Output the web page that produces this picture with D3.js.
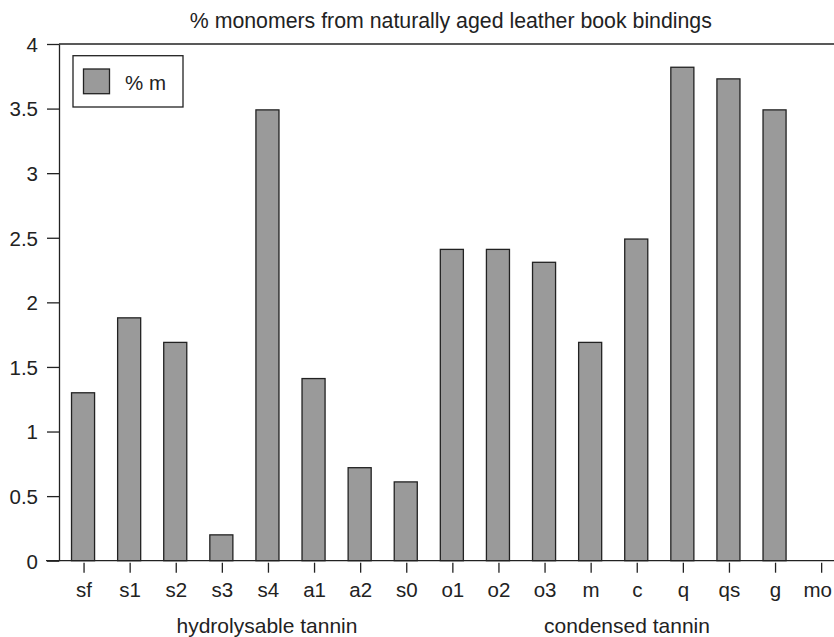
<!DOCTYPE html>
<html>
<head>
<meta charset="utf-8">
<script src="https://cdn.jsdelivr.net/npm/d3@7"></script>
<style>
  html, body { margin: 0; padding: 0; background: #fff; }
  svg { display: block; }
  text { font-family: "Liberation Sans", Arial, Helvetica, sans-serif; fill: #222; }
</style>
</head>
<body>
<svg id="chart" width="834" height="637"></svg>
<script>
const title = "% monomers from naturally aged leather book bindings";
const categories = ["sf","s1","s2","s3","s4","a1","a2","s0","o1","o2","o3","m","c","q","qs","g","mo"];
const values = [1.30, 1.88, 1.69, 0.20, 3.49, 1.41, 0.72, 0.61, 2.41, 2.41, 2.31, 1.69, 2.49, 3.82, 3.73, 3.49, 0];
const yTicks = [0, 0.5, 1, 1.5, 2, 2.5, 3, 3.5, 4];
const seriesName = "% m";
const groups = [
  { label: "hydrolysable tannin", from: "sf", to: "s0" },
  { label: "condensed tannin", from: "o1", to: "mo" }
];

const svg = d3.select("#chart");
const mLeft = 59, mTop = 44, mBottom = 560.7, mRight = 844.7;

const x = d3.scaleBand().domain(categories).range([61, mRight]).paddingInner(0.5).paddingOuter(0.25);
const y = d3.scaleLinear().domain([0, 4]).range([mBottom, mTop]);

// Top line
svg.append("line").attr("x1", mLeft).attr("x2", 834).attr("y1", y(4)).attr("y2", y(4))
  .attr("stroke", "#222").attr("stroke-width", 1.3);

// Bars
svg.append("g").selectAll("rect").data(categories.map((c, i) => ({ c, v: values[i] })).filter(d => d.v > 0))
  .join("rect")
  .attr("x", d => x(d.c) - 1)
  .attr("width", x.bandwidth())
  .attr("y", d => y(d.v))
  .attr("height", d => y(0) - y(d.v))
  .attr("fill", "#9a9a9a")
  .attr("stroke", "#222")
  .attr("stroke-width", 1.3);

// Baseline
svg.append("line").attr("x1", 46).attr("x2", 834).attr("y1", y(0)).attr("y2", y(0))
  .attr("stroke", "#222").attr("stroke-width", 1.3);

// Y axis
const yAxis = svg.append("g").attr("transform", `translate(${mLeft},0)`)
  .call(d3.axisLeft(y).tickValues(yTicks).tickFormat(d3.format("")).tickSize(12).tickSizeOuter(0).tickPadding(9));
yAxis.select(".domain").attr("stroke", "#222").attr("stroke-width", 1.3);
yAxis.selectAll(".tick line").attr("stroke", "#222").attr("stroke-width", 1.3);
yAxis.selectAll(".tick text").attr("font-size", 20.5).attr("fill", "#222").attr("dy", "0.36em")
  .style("font-family", "'Liberation Sans', Arial, sans-serif");

// X axis ticks
const xAxis = svg.append("g").attr("transform", `translate(0,${y(0) + 2})`)
  .call(d3.axisBottom(x).tickSize(10).tickSizeOuter(0).tickPadding(10));
xAxis.select(".domain").remove();
xAxis.selectAll(".tick line").attr("stroke", "#222").attr("stroke-width", 1.3);
xAxis.selectAll(".tick text").attr("font-size", 20.5).attr("fill", "#222").attr("dy", "0.71em")
  .style("font-family", "'Liberation Sans', Arial, sans-serif");
// keep the last label inside the picture, as in the reference
xAxis.selectAll(".tick").filter(d => d === categories[categories.length - 1]).select("text")
  .attr("text-anchor", "end").attr("x", function () {
    const t = d3.select(this.parentNode).attr("transform");
    const tx = +t.match(/translate\(([^,]+)/)[1];
    return 832 - tx;
  });

// Group labels
const groupX = { "hydrolysable tannin": 267, "condensed tannin": 627 };
svg.append("g").selectAll("text").data(groups).join("text")
  .attr("x", d => groupX[d.label])
  .attr("y", 633)
  .attr("text-anchor", "middle")
  .attr("font-size", 21)
  .text(d => d.label);

// Title
svg.append("text").attr("x", (mLeft + mRight) / 2 - 1).attr("y", 28).attr("text-anchor", "middle")
  .attr("font-size", 21.3).text(title);

// Legend
const lg = svg.append("g");
lg.append("rect").attr("x", 73).attr("y", 55.7).attr("width", 110).attr("height", 51.3)
  .attr("fill", "#fff").attr("stroke", "#222").attr("stroke-width", 1.3);
lg.append("rect").attr("x", 83.5).attr("y", 69).attr("width", 26).attr("height", 24.7)
  .attr("fill", "#9a9a9a").attr("stroke", "#222").attr("stroke-width", 1.3);
lg.append("text").attr("x", 125).attr("y", 90).attr("font-size", 20.5).text(seriesName);
</script>
</body>
</html>
